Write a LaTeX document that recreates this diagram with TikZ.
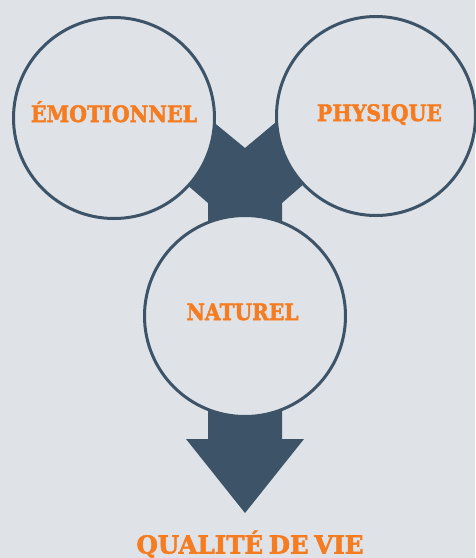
\documentclass[tikz,border=0pt]{standalone}
\usepackage{fontspec}
\setmainfont{DejaVu Serif}[BoldFeatures={FakeBold=2.2}]
\usepackage{graphicx}
\definecolor{bg}{HTML}{DFE2E7}
\definecolor{slate}{HTML}{3D5468}
\definecolor{orng}{HTML}{F57C20}
\newcommand\lbl[2]{\resizebox{#1}{\height}{#2}}
\begin{document}
\begin{tikzpicture}[x=1pt,y=-1pt,
  circ/.style={circle,draw=slate,fill=bg,line width=3pt,minimum size=201pt,inner sep=0pt},
  lab/.style={text=orng,font=\bfseries\fontsize{22.6}{24}\selectfont,inner sep=0pt,anchor=base},
  biglab/.style={text=orng,font=\bfseries\fontsize{24.7}{26}\selectfont,inner sep=0pt,anchor=base}]
\fill[bg] (0,0) rectangle (475,558);
\useasboundingbox (0,0) rectangle (475,558);
% merging arrow (top)
\fill[slate] (245,148) -- (200,111) -- (170,170) -- (208,203) -- (208,240)
  -- (282,240) -- (282,203) -- (320,170) -- (300,102) -- cycle;
% downward arrow
\fill[slate] (208,390) -- (208,439) -- (186,439) -- (245,513) -- (304,439)
  -- (282,439) -- (282,390) -- cycle;
\node[circ] (emo) at (114,118) {};
\node[circ,minimum size=199pt] (phy) at (376,116) {};
\node[circ] (nat) at (245,316) {};
\node[lab] (temo) at (114,122) {\lbl{166pt}{ÉMOTIONNEL}};
\node[lab] (tphy) at (379.5,121) {\lbl{125pt}{PHYSIQUE}};
\node[lab] (tnat) at (242.5,320) {\lbl{112pt}{NATUREL}};
\node[biglab] (tq) at (250,553.5) {\lbl{227pt}{QUALITÉ\hspace{-0.12em} DE\hspace{-0.12em} VIE}};
\end{tikzpicture}
\end{document}
